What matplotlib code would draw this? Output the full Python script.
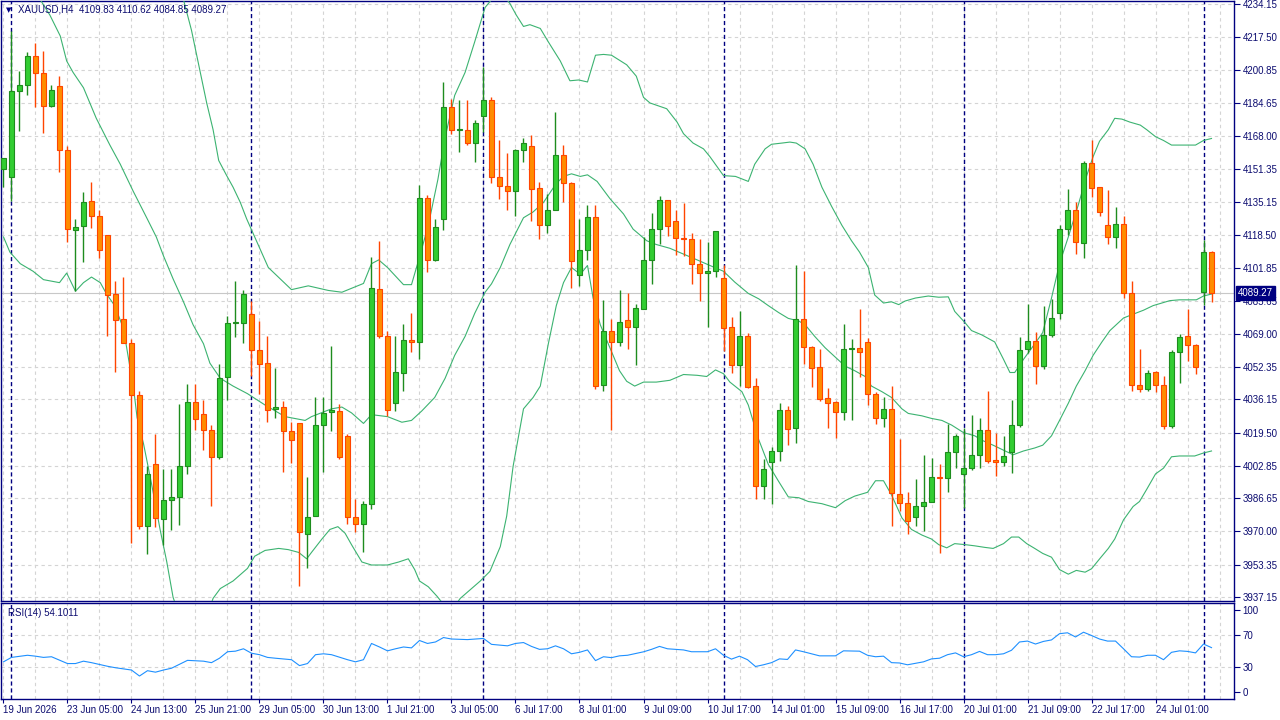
import matplotlib
matplotlib.use("Agg")
import matplotlib.pyplot as plt
import numpy as np

# ---------------- data ----------------
opens = [4151.6, 4147.6, 4190.7, 4193.8, 4208.1, 4199.5, 4183.0, 4193.0, 4161.0, 4121.0,
         4122.9, 4135.5, 4128.1, 4118.5, 4089.0, 4076.2, 4064.5, 4038.1, 3972.6, 4004.0,
         3976.2, 3986.0, 3987.3, 4003.0, 4034.8, 4028.9, 4020.8, 4007.4, 4047.3, 4074.4,
         4074.4, 4078.9, 4061.0, 4054.3, 4031.4, 4032.3, 4020.4, 4024.1, 3968.9, 3977.7,
         4023.3, 4030.0, 4030.4, 4017.9, 3977.4, 3973.5, 3983.9, 4091.5, 4067.7, 4034.2,
         4049.4, 4065.8, 4064.9, 4137.1, 4106.0, 4126.5, 4182.6, 4171.2, 4171.2, 4164.5,
         4178.1, 4186.1, 4147.4, 4143.0, 4140.5, 4161.0, 4162.9, 4142.0, 4123.3, 4130.9,
         4158.5, 4144.3, 4098.4, 4110.8, 4127.5, 4043.2, 4070.4, 4064.9, 4076.0, 4072.3,
         4081.5, 4106.0, 4121.4, 4135.9, 4125.4, 4117.2, 4116.4, 4104.1, 4099.4, 4100.5,
         4096.9, 4072.3, 4053.4, 4067.7, 4042.8, 3992.7, 4004.9, 4010.3, 4031.0, 4021.8,
         4076.4, 4062.4, 4052.4, 4036.7, 4034.6, 4029.8, 4061.6, 4062.0, 4064.9, 4039.0,
         4027.0, 4031.4, 3988.8, 3984.2, 3977.4, 3982.9, 3984.8, 3997.3, 3996.9, 4009.9,
         3998.8, 4001.9, 4008.4, 4020.8, 4005.9, 4004.9, 4009.9, 4023.1, 4061.6, 4065.4,
         4053.0, 4068.3, 4079.2, 4121.4, 4130.9, 4114.5, 4154.5, 4142.4, 4123.3, 4117.3,
         4124.0, 4089.2, 4043.4, 4041.3, 4049.9, 4043.4, 4022.7, 4060.1, 4067.7, 4063.5,
         4089.8, 4109.83]
highs = [4157.2, 4220.6, 4200.6, 4210.2, 4214.8, 4210.8, 4193.8, 4198.0, 4162.9, 4126.5,
         4140.1, 4145.1, 4131.1, 4118.5, 4095.5, 4097.6, 4066.6, 4040.5, 4002.6, 4018.7,
         4001.1, 4001.5, 4033.7, 4043.6, 4044.0, 4036.0, 4023.3, 4054.0, 4077.7, 4095.5,
         4090.7, 4085.4, 4075.4, 4068.1, 4052.0, 4035.2, 4024.9, 4024.1, 3997.3, 4037.5,
         4037.1, 4062.9, 4033.7, 4018.7, 3986.4, 3985.4, 4107.6, 4115.5, 4070.4, 4068.1,
         4073.9, 4079.6, 4143.6, 4138.3, 4126.7, 4195.3, 4186.5, 4186.1, 4186.1, 4176.1,
         4202.6, 4187.4, 4166.2, 4159.7, 4161.6, 4166.9, 4168.3, 4145.1, 4139.0, 4180.2,
         4163.5, 4145.1, 4126.7, 4133.6, 4133.6, 4086.1, 4076.2, 4091.1, 4089.6, 4084.0,
         4117.5, 4129.4, 4137.8, 4135.9, 4130.9, 4134.4, 4119.5, 4116.4, 4115.2, 4120.4,
         4103.4, 4077.3, 4080.2, 4069.6, 4046.7, 4006.4, 4012.2, 4034.2, 4032.9, 4103.2,
         4100.3, 4062.9, 4061.6, 4041.9, 4035.2, 4073.9, 4066.2, 4081.2, 4067.0, 4040.0,
         4037.1, 4042.8, 4016.4, 3990.0, 3996.1, 4008.4, 4006.8, 4003.6, 4023.7, 4018.9,
         4021.8, 4028.5, 4026.6, 4040.5, 4019.3, 4017.6, 4035.6, 4067.4, 4084.0, 4070.0,
         4083.1, 4086.5, 4123.3, 4141.7, 4135.1, 4155.6, 4165.8, 4142.4, 4140.9, 4132.7,
         4128.1, 4095.2, 4061.6, 4050.9, 4050.5, 4047.8, 4060.9, 4068.7, 4081.5, 4064.0,
         4116.0, 4110.62]
lows = [4142.4, 4135.7, 4170.4, 4188.4, 4182.6, 4169.4, 4182.6, 4150.1, 4114.9, 4090.3,
        4104.9, 4122.1, 4106.8, 4068.1, 4049.7, 4064.3, 3964.3, 3971.0, 3958.6, 3972.0,
        3963.0, 3970.5, 3973.1, 3998.8, 4021.0, 4010.7, 3982.5, 4006.4, 4035.6, 4067.4,
        4064.3, 4047.6, 4039.0, 4024.9, 4026.8, 3999.7, 4004.5, 3942.9, 3951.7, 3977.7,
        4000.0, 4020.3, 4006.4, 3973.5, 3969.5, 3959.9, 3981.2, 4066.9, 4027.9, 4030.2,
        4040.5, 4060.1, 4056.6, 4099.9, 4105.3, 4121.0, 4168.9, 4160.0, 4163.5, 4154.9,
        4170.2, 4144.3, 4136.3, 4130.9, 4127.9, 4154.9, 4125.6, 4116.4, 4119.5, 4130.9,
        4135.1, 4091.9, 4093.0, 4105.7, 4041.3, 4040.1, 4021.0, 4063.1, 4061.6, 4053.6,
        4081.5, 4093.8, 4114.1, 4117.9, 4108.3, 4108.0, 4093.8, 4085.4, 4072.3, 4097.2,
        4060.5, 4049.5, 4042.8, 4041.9, 3986.4, 3986.4, 3983.5, 4005.5, 4013.2, 4014.5,
        4053.9, 4042.4, 4035.2, 4021.8, 4017.0, 4026.0, 4026.0, 4047.1, 4033.3, 4023.7,
        4022.2, 3972.9, 3980.0, 3968.9, 3972.7, 3970.1, 3984.8, 3959.2, 3990.0, 4001.7,
        3981.6, 4000.7, 4001.7, 4004.5, 3997.9, 4003.0, 3999.2, 4022.2, 4059.2, 4043.8,
        4051.5, 4067.4, 4076.4, 4118.3, 4109.0, 4106.8, 4137.6, 4127.9, 4113.9, 4111.8,
        4086.9, 4040.1, 4039.8, 4040.5, 4039.8, 4021.4, 4022.0, 4044.2, 4055.3, 4048.8,
        4083.4, 4084.85]
closes = [4156.8, 4190.7, 4193.8, 4208.1, 4199.5, 4183.0, 4191.1, 4161.0, 4121.4, 4122.5,
          4135.0, 4128.1, 4110.8, 4088.4, 4075.8, 4064.3, 4038.1, 3972.6, 3998.8, 3976.6,
          3986.0, 3987.3, 4003.0, 4034.6, 4026.4, 4020.8, 4007.4, 4046.7, 4074.4, 4075.0,
          4088.8, 4061.0, 4053.9, 4031.0, 4032.1, 4020.4, 4016.0, 3969.5, 3977.4, 4023.3,
          4029.4, 4030.8, 4007.4, 3977.4, 3973.5, 3983.9, 4091.9, 4067.7, 4031.0, 4050.1,
          4065.8, 4064.9, 4137.1, 4106.0, 4122.5, 4182.6, 4171.2, 4171.5, 4164.5, 4174.6,
          4186.1, 4147.4, 4143.0, 4140.5, 4161.0, 4164.5, 4141.5, 4123.3, 4130.9, 4158.5,
          4144.3, 4105.3, 4111.0, 4127.5, 4042.8, 4070.4, 4064.9, 4075.0, 4072.5, 4082.1,
          4106.0, 4121.6, 4135.9, 4122.9, 4116.8, 4116.4, 4103.7, 4099.4, 4100.5, 4120.4,
          4072.0, 4053.4, 4067.7, 4042.3, 3992.7, 4001.3, 4010.3, 4031.0, 4021.4, 4076.4,
          4062.4, 4052.0, 4036.1, 4034.2, 4029.8, 4061.6, 4062.0, 4059.7, 4039.0, 4027.0,
          4031.4, 3989.2, 3984.4, 3975.4, 3982.9, 3984.8, 3997.3, 3996.9, 4009.9, 4017.9,
          4001.9, 4008.4, 4020.8, 4005.5, 4004.9, 4008.0, 4023.1, 4061.0, 4065.4, 4053.0,
          4068.3, 4076.9, 4121.6, 4130.9, 4115.0, 4154.5, 4142.0, 4129.8, 4117.3, 4124.0,
          4089.6, 4043.2, 4041.3, 4049.4, 4043.4, 4022.7, 4060.1, 4067.4, 4063.5, 4052.4,
          4109.9, 4089.27]

# Bollinger bands (bar position, value)
upper_x = [0, 8, 16, 20.5, 22.5, 23.5, 24.6, 25.4, 26.2, 26.9, 27.9, 28.7, 29.6, 30.4, 33.1, 36, 38.1,
           40.6, 42.3, 45, 46, 46.9, 48, 50, 51, 51.9, 53.1, 54.3, 55.2, 56.4, 57.7, 58.9, 60.2, 61,
           62, 63.3, 64.1, 65, 65.8, 67.1, 68.1, 69.6, 70.8, 71.9, 73, 74, 75, 76, 77.9, 79.1, 80,
           80.8, 82.9, 84.2, 85, 86.2, 87.5, 88.3, 90, 91.5, 93.1, 93.9, 95.2, 96, 97.3, 98.3, 99.1,
           100.2, 101.2, 102.3, 103.5, 104.8, 106, 107, 108.1, 108.9, 110, 111, 111.9, 112.7, 114,
           115.6, 116.9, 118.1, 118.9, 120.2, 121, 122.3, 123.9, 125, 125.8, 126.4, 127.5, 128.9,
           129.9, 131, 132, 133.1, 134.3, 135.4, 136.2, 137, 138.1, 138.9, 139.8, 140.8, 142.1,
           142.9, 144, 145, 146, 149, 150, 151]
upper_v = [4330, 4305, 4270, 4252, 4236.3, 4221.0, 4199.9, 4184.6, 4171.2, 4155.8, 4148.2, 4142.4,
           4134.8, 4126.5, 4102.2, 4091.1, 4093.0, 4090.7, 4089.8, 4094.2, 4104.1, 4106.0, 4102.2,
           4093.6, 4093.6, 4106.0, 4123.3, 4146.3, 4167.3, 4188.4, 4199.9, 4215.2, 4232.4, 4236.3,
           4241.0, 4234.4, 4228.6, 4222.9, 4223.8, 4221.9, 4215.2, 4205.6, 4195.7, 4196.1, 4195.1,
           4208.5, 4208.9, 4208.5, 4203.7, 4198.0, 4187.4, 4184.6, 4181.7, 4175.0, 4169.2, 4164.5,
           4161.6, 4157.7, 4148.2, 4147.8, 4145.3, 4153.9, 4161.6, 4163.9, 4164.5, 4165.0, 4164.5,
           4161.6, 4153.9, 4142.4, 4132.9, 4123.3, 4115.6, 4109.9, 4102.2, 4088.4, 4084.4, 4085.0,
           4083.6, 4085.4, 4086.9, 4087.9, 4087.3, 4087.5, 4080.2, 4074.5, 4070.6, 4068.4, 4064.9,
           4056.2, 4049.6, 4049.6, 4056.2, 4063.9, 4069.6, 4086.9, 4104.1, 4117.5, 4132.9, 4148.2,
           4157.7, 4165.4, 4171.2, 4176.9, 4176.5, 4175.0, 4173.5, 4171.2, 4167.7, 4165.8, 4163.5,
           4163.5, 4165.8, 4166.8]
middle_x = [0, 2.5, 4.6, 5.8, 7.1, 7.9, 8.7, 10, 11.6, 13.3, 14.6, 16.2, 17.9, 19.1, 20, 21.2, 22.5,
            23.7, 25, 25.8, 27.1, 28.7, 30.5, 32.7, 35.2, 37.7, 38.5, 41, 42.3, 43.5, 45, 46, 48,
            49.8, 51, 52.3, 53.9, 55.2, 56.4, 57.7, 58.9, 60.2, 61, 62.1, 63.3, 65, 66.2, 67.5, 69.1,
            70, 71, 72.1, 73, 74.2, 75.8, 77.5, 78.7, 80.4, 81.6, 83.3, 85, 86.7, 88.3, 90, 91.4,
            93.1, 94.4, 95.6, 96.9, 98.1, 99.4, 100.2, 101.4, 102.7, 104, 105.2, 106.4, 107.7, 108.5,
            109.8, 111, 112.3, 113.1, 114.8, 116, 117.3, 118.5, 120, 121.4, 122.4, 123.7, 125, 126.2,
            127.5, 128.9, 129.9, 131, 132, 133.1, 134.1, 135.2, 136.2, 137.3, 138.3, 140, 141.2,
            142.5, 143.7, 145.8, 147, 149.1, 150, 151]
middle_v = [4262, 4250, 4236.3, 4228.6, 4218.1, 4205.6, 4199.9, 4192.2, 4176.9, 4163.5, 4153.9,
            4140.5, 4127.1, 4117.5, 4108.0, 4096.5, 4085.0, 4073.5, 4064.0, 4054.3, 4046.7, 4042.8,
            4039.0, 4033.3, 4027.5, 4025.6, 4027.5, 4031.4, 4032.3, 4029.4, 4024.1, 4028.5, 4027.5,
            4024.7, 4025.6, 4030.4, 4037.1, 4046.7, 4058.2, 4067.7, 4079.2, 4089.8, 4094.0, 4102.2,
            4113.7, 4127.1, 4130.0, 4134.8, 4144.3, 4147.8, 4149.1, 4147.8, 4148.6, 4145.3, 4136.7,
            4129.0, 4121.4, 4115.6, 4113.7, 4111.8, 4108.9, 4106.0, 4103.2, 4100.3, 4094.9, 4089.2,
            4086.5, 4083.1, 4079.6, 4076.7, 4075.4, 4073.5, 4067.7, 4062.0, 4057.2, 4052.8, 4050.5,
            4047.6, 4042.8, 4040.0, 4037.1, 4031.4, 4029.1, 4027.9, 4026.6, 4025.6, 4023.3, 4019.5,
            4017.9, 4015.5, 4013.2, 4010.7, 4008.4, 4010.3, 4011.8, 4013.2, 4017.9, 4025.6, 4034.2,
            4042.8, 4050.5, 4058.2, 4064.9, 4070.6, 4076.9, 4078.8, 4080.8, 4083.1, 4085.6, 4086.0,
            4086.0, 4087.9, 4088.9]
lower_x = [0, 0.8, 2.1, 3.7, 5, 7, 7.9, 9, 10, 11, 12.1, 12.9, 13.9, 15, 15.8, 16.4, 16.7, 17.5,
           18.5, 19.6, 20.4, 21.2, 22.5, 24, 25.3, 26.2, 27.1, 28.7, 30.5, 31.4, 32.7, 34.4, 35.6,
           36.9, 37.9, 38.5, 39.8, 40.8, 41.8, 42.7, 43.5, 44.8, 46, 48, 49.4, 50.6, 51.4, 52, 53.1,
           54.2, 55.5, 56.3, 57.1, 58.5, 59.6, 60.8, 62.1, 62.9, 63.7, 65, 66.2, 67.1, 68.1, 69.1,
           70, 71, 72.1, 73, 73.7, 74.6, 75.8, 77, 77.9, 78.9, 80, 81.6, 83.3, 85, 86.7, 87.9, 89,
           90, 90.8, 92.3, 93.1, 94.4, 95.6, 96.9, 98.1, 99.4, 100.6, 102.3, 104, 105.2, 106.4, 108,
           109, 110, 111, 112.3, 113.5, 114.8, 116, 116.9, 117.9, 118.9, 120.2, 121.4, 122.7, 123.7,
           125, 126, 126.9, 127.9, 128.9, 129.9, 131, 132, 133.1, 134.1, 135.2, 136, 137.1, 138.1,
           138.9, 140, 141.2, 142, 142.9, 144, 145, 146, 147, 148.9, 150, 151]
lower_v = [4117.5, 4109.9, 4104.1, 4100.3, 4096.1, 4094.6, 4099.4, 4090.3, 4094.6, 4097.4, 4094.6,
           4088.8, 4083.1, 4071.6, 4052.4, 4037.1, 4027.0, 4014.0, 3994.0, 3970.5, 3955.0, 3937.0,
           3922.0, 3918.0, 3926.0, 3936.5, 3941.4, 3945.2, 3951.5, 3957.6, 3960.5, 3961.5, 3960.9,
           3959.5, 3956.3, 3959.5, 3966.2, 3971.0, 3972.4, 3969.1, 3963.4, 3954.7, 3953.2, 3953.2,
           3954.7, 3956.3, 3950.9, 3945.2, 3942.3, 3937.5, 3931.0, 3932.0, 3936.5, 3941.4, 3945.2,
           3950.0, 3962.4, 3977.7, 4002.6, 4031.4, 4037.1, 4042.8, 4063.9, 4083.1, 4094.6, 4102.2,
           4098.8, 4103.2, 4086.9, 4073.5, 4062.0, 4050.5, 4045.2, 4042.8, 4044.8, 4044.8, 4045.7,
           4048.6, 4048.2, 4047.6, 4050.9, 4049.0, 4044.8, 4040.0, 4033.3, 4016.0, 4003.6, 3995.0,
           3987.3, 3986.9, 3985.0, 3983.9, 3981.9, 3985.4, 3987.7, 3989.6, 3995.4, 3995.4, 3988.3,
           3976.8, 3971.0, 3968.2, 3966.2, 3963.4, 3961.8, 3963.9, 3963.4, 3962.8, 3962.0, 3961.5,
           3963.9, 3967.2, 3967.2, 3963.9, 3961.5, 3959.0, 3957.1, 3950.9, 3948.6, 3950.5, 3949.6,
           3951.3, 3956.7, 3961.5, 3966.2, 3975.8, 3982.5, 3985.0, 3991.1, 3998.8, 4001.7, 4007.4,
           4007.8, 4007.8, 4009.3, 4010.3]

rsi_x = [0, 1, 3, 4, 5, 6, 8, 9, 10, 11, 13, 14, 16, 17, 18, 19, 20, 21, 23, 25, 26, 27, 28, 29,
         30, 31, 32, 33, 34, 36, 37, 38, 39, 40, 41, 43, 44, 45, 46, 47, 48, 49, 50, 51, 52, 53,
         54, 55, 56, 58, 59, 60, 61, 63, 64, 65, 66, 67, 68, 69, 70, 71, 72, 73, 74, 75, 76, 77,
         78, 80, 81, 82, 83, 84, 85, 86, 88, 89, 90, 91, 92, 93, 94, 95, 96, 97, 98, 99, 100, 101,
         102, 104, 105, 107, 108, 109, 110, 111, 112, 113, 114, 115, 116, 117, 118, 119, 120, 121,
         122, 123, 124, 125, 126, 127, 128, 129, 130, 131, 132, 133, 134, 135, 136, 137, 138, 139,
         140, 141, 142, 143, 144, 145, 146, 147, 148, 149, 150, 151]
rsi_v = [36.8, 42.2, 44.8, 43.7, 42.2, 43.0, 34.7, 34.7, 37.6, 35.8, 31.4, 29.6, 26.8, 19.5, 26.0,
         24.2, 26.8, 29.0, 38.6, 37.6, 35.8, 41.2, 49.1, 49.8, 52.7, 47.3, 45.5, 42.2, 41.2, 39.4,
         32.2, 34.7, 45.5, 46.6, 45.5, 39.4, 36.8, 39.4, 59.2, 54.9, 50.2, 52.7, 54.9, 53.8, 62.8,
         59.2, 61.0, 66.4, 64.6, 63.9, 64.6, 65.3, 58.1, 56.3, 59.2, 60.3, 55.6, 52.0, 52.7, 56.3,
         52.7, 46.6, 48.4, 51.3, 38.3, 43.0, 41.9, 44.1, 44.8, 49.0, 52.0, 55.6, 52.7, 52.0, 51.3,
         49.1, 49.1, 52.7, 44.8, 40.1, 43.7, 39.4, 31.1, 33.2, 35.8, 40.4, 39.7, 51.3, 49.1, 46.6,
         44.1, 44.1, 50.2, 49.8, 44.8, 43.0, 43.7, 35.8, 35.4, 33.2, 35.0, 36.8, 40.4, 41.2, 45.5,
         47.7, 43.0, 45.5, 49.5, 45.5, 45.5, 46.6, 50.9, 61.0, 62.1, 58.5, 61.7, 63.5, 71.1, 72.2,
         67.1, 72.9, 68.9, 64.6, 62.1, 62.1, 52.7, 43.0, 42.6, 44.8, 44.8, 39.4, 48.4, 50.2, 49.5,
         47.7, 58.5, 54.1]

price_ticks = [4234.15, 4217.50, 4200.85, 4184.65, 4168.00, 4151.35, 4135.15, 4118.50, 4101.85,
               4085.65, 4069.00, 4052.35, 4036.15, 4019.50, 4002.85, 3986.65, 3970.00, 3953.35,
               3937.15]
rsi_ticks = [100, 70, 30, 0]
date_labels = ["19 Jun 2026", "23 Jun 05:00", "24 Jun 13:00", "25 Jun 21:00", "29 Jun 05:00",
               "30 Jun 13:00", "1 Jul 21:00", "3 Jul 05:00", "6 Jul 17:00", "8 Jul 01:00",
               "9 Jul 09:00", "10 Jul 17:00", "14 Jul 01:00", "15 Jul 09:00", "16 Jul 17:00",
               "20 Jul 01:00", "21 Jul 09:00", "22 Jul 17:00", "24 Jul 01:00"]
date_bars = [0, 8, 16, 24, 32, 40, 48, 56, 64, 72, 80, 88, 96, 104, 112, 120, 128, 136, 144]
separator_bars = [1, 31, 60, 90, 120, 150]
symbol = "XAUUSD,H4"
last_price = 4089.27
rsi_last = "54.1011"

# ---------------- style ----------------
NAVY = "#000080"
TXT = "#0c0c70"
GRID = "#d4d4d4"
FONT = "Liberation Sans"
FS = 7
plt.rcParams["font.family"] = [FONT, "DejaVu Sans"]

W, H = 1280, 720
fig = plt.figure(figsize=(12.8, 7.2), dpi=100)
fig.patch.set_facecolor("white")
ax = fig.add_axes([1 / W, 119 / H, 1233 / W, 600 / H])
ax2 = fig.add_axes([1 / W, 21 / H, 1233 / W, 96 / H])

n = len(closes)
xs = np.arange(n)
xlim = (-0.31, 153.81)

for a in (ax, ax2):
    a.set_xlim(*xlim)
    for s in a.spines.values():
        s.set_color(NAVY)
        s.set_linewidth(1.0)
    a.set_facecolor("white")

ax.set_ylim(3935.17, 4235.65)
ax2.set_ylim(-8.5, 108.5)

dash = (0, (3, 3))
grid_bars = np.arange(0, 154, 4)
for a in (ax, ax2):
    a.vlines(grid_bars, *a.get_ylim(), colors=GRID, linestyles=dash, linewidth=0.8, zorder=0)
ax.hlines(price_ticks, *xlim, colors=GRID, linestyles=dash, linewidth=0.8, zorder=0)
ax2.hlines([30, 70], *xlim, colors=GRID, linestyles=dash, linewidth=0.8, zorder=0)

# current price line
ax.axhline(last_price, color="#c8c8c8", linewidth=0.8, zorder=1)

# separators
for a in (ax, ax2):
    a.vlines(separator_bars, *a.get_ylim(), colors=NAVY, linestyles=(0, (3, 2)),
             linewidth=1.0, zorder=2)

# Bollinger bands
band_col = "#3cb371"
ax.plot(upper_x, upper_v, color=band_col, linewidth=0.8, zorder=3)
ax.plot(middle_x, middle_v, color=band_col, linewidth=0.8, zorder=3)
ax.plot(lower_x, lower_v, color=band_col, linewidth=0.8, zorder=3)

# candles
o = np.array(opens); c = np.array(closes); h = np.array(highs); l = np.array(lows)
up = c >= o
body_lo = np.minimum(o, c)
body_h = np.maximum(np.abs(c - o), 0.25)
for mask, face, edge in ((up, "#32cd32", "#1e8c1e"), (~up, "#ff8c00", "#ff4500")):
    ax.vlines(xs[mask], l[mask], h[mask], colors=edge, linewidth=1.0, zorder=4)
    ax.bar(xs[mask], body_h[mask], bottom=body_lo[mask], width=0.6, color=face,
           edgecolor=edge, linewidth=0.8, zorder=5)

# RSI
ax2.plot(rsi_x, rsi_v, color="#1e90ff", linewidth=0.8, zorder=3)

# axes ticks
ax.yaxis.tick_right()
ax.set_yticks(price_ticks)
ax.set_yticklabels([f"{p:.2f}" for p in price_ticks])
ax.tick_params(axis="y", direction="out", length=4, width=0.8, color=NAVY,
               labelcolor=TXT, labelsize=FS, pad=2)
ax.set_xticks([])

ax2.yaxis.tick_right()
ax2.set_yticks(rsi_ticks)
ax2.set_yticklabels([str(v) for v in rsi_ticks])
ax2.tick_params(axis="y", direction="out", length=4, width=0.8, color=NAVY,
                labelcolor=TXT, labelsize=FS, pad=2)
ax2.set_xticks(date_bars)
ax2.set_xticklabels(date_labels)
ax2.tick_params(axis="x", direction="out", length=3, width=0.8, color=NAVY,
                labelcolor=TXT, labelsize=FS, pad=1)
for lbl in ax2.get_xticklabels():
    lbl.set_horizontalalignment("left")

# price tag
ax.text(1.003, last_price, f"{last_price:.2f}", transform=ax.get_yaxis_transform(),
        ha="left", va="center", color="white", fontsize=FS, zorder=10,
        bbox=dict(boxstyle="square,pad=0.2", facecolor=NAVY, edgecolor=NAVY))

# header texts
fig.text(18 / W, 1 - 10 / H,
         f"{symbol}  {opens[-1]:.2f} {highs[-1]:.2f} {lows[-1]:.2f} {closes[-1]:.2f}",
         ha="left", va="center", color=TXT, fontsize=FS)
fig.text(9 / W, 1 - 10 / H, "\u25BC", ha="center", va="center", color=NAVY, fontsize=5,
         family="DejaVu Sans")
fig.text(8 / W, 1 - 613 / H, f"RSI(14) {rsi_last}", ha="left", va="center",
         color=TXT, fontsize=FS)

fig.savefig("out.png", dpi=100, facecolor="white")
